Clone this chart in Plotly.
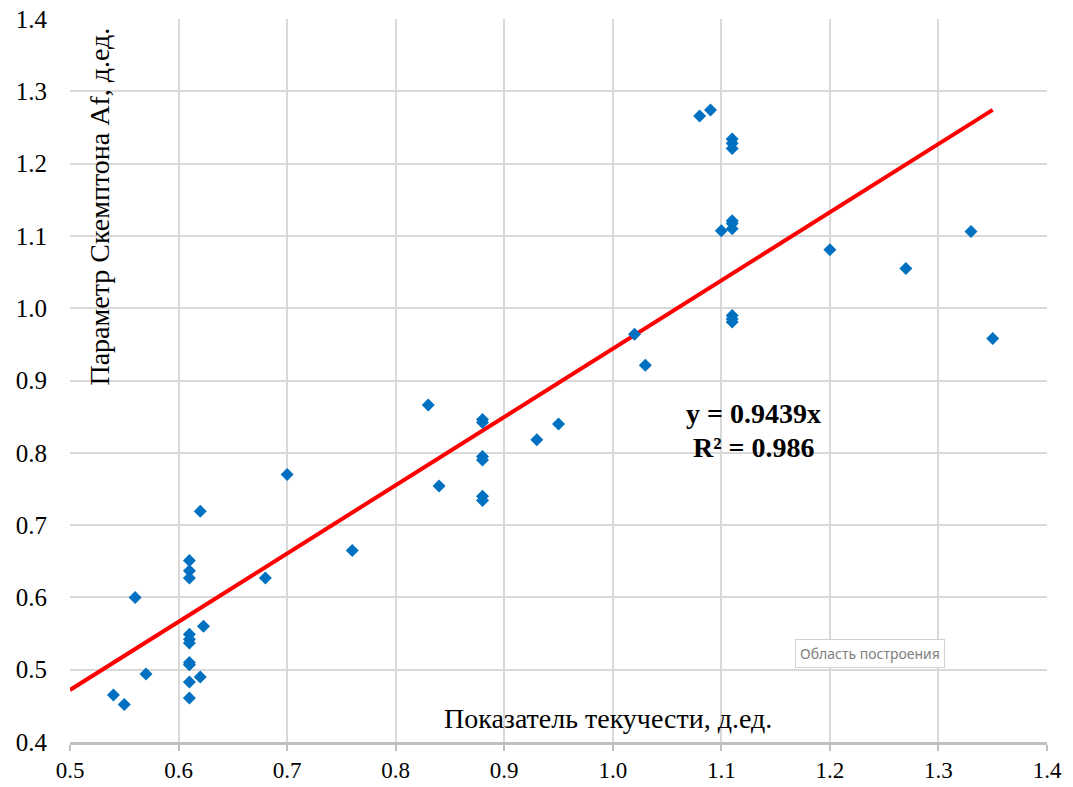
import plotly.graph_objects as go

# Liquidity index vs. Skempton parameter Af
liquidity_index = [
    0.54, 0.55, 0.56, 0.57,
    0.61, 0.61, 0.61, 0.61, 0.61, 0.61, 0.61, 0.61, 0.61, 0.61,
    0.62, 0.623, 0.62,
    0.68, 0.70, 0.76,
    0.83, 0.88, 0.88, 0.88, 0.88, 0.84, 0.88, 0.88, 0.93, 0.95,
    1.02, 1.03,
    1.08, 1.09, 1.11, 1.11, 1.11, 1.10, 1.11, 1.11, 1.11, 1.11, 1.11, 1.11,
    1.20, 1.27, 1.33, 1.35,
]
skempton_af = [
    0.465, 0.452, 0.600, 0.494,
    0.651, 0.637, 0.627, 0.549, 0.542, 0.537, 0.510, 0.507, 0.483, 0.461,
    0.719, 0.560, 0.490,
    0.627, 0.770, 0.665,
    0.866, 0.846, 0.842, 0.795, 0.790, 0.754, 0.740, 0.734, 0.818, 0.840,
    0.964, 0.921,
    1.266, 1.274, 1.234, 1.228, 1.221, 1.107, 1.121, 1.117, 1.110, 0.990, 0.985, 0.981,
    1.081, 1.055, 1.106, 0.958,
]

slope = 0.9439
r_squared = 0.986
trend_x = [0.5, 1.35]
trend_y = [slope * v for v in trend_x]

x_ticks = [0.5, 0.6, 0.7, 0.8, 0.9, 1.0, 1.1, 1.2, 1.3, 1.4]
y_ticks = [0.4, 0.5, 0.6, 0.7, 0.8, 0.9, 1.0, 1.1, 1.2, 1.3, 1.4]

serif = "Liberation Serif"
grid = "#d9d9d9"

fig = go.Figure()
fig.add_trace(go.Scatter(
    x=trend_x, y=trend_y, mode="lines",
    line=dict(color="#ff0000", width=4),
    hoverinfo="skip", showlegend=False,
))
fig.add_trace(go.Scatter(
    x=liquidity_index, y=skempton_af, mode="markers",
    marker=dict(symbol="diamond", size=10, color="#0070c0"),
    showlegend=False,
))

fig.update_layout(
    width=1073, height=787,
    margin=dict(l=70, r=26, t=19, b=45),
    paper_bgcolor="white", plot_bgcolor="white",
    font=dict(family=serif, size=24, color="#000000"),
    xaxis=dict(
        range=[0.5, 1.4], tickvals=x_ticks, tickformat=".1f",
        showgrid=True, gridcolor=grid, gridwidth=1.5,
        showline=True, linecolor="#bfbfbf", linewidth=2.5,
        ticks="outside", ticklen=6, tickcolor="#bfbfbf", tickwidth=1.5,
        ticklabelstandoff=0, automargin=False,
        zeroline=False, tickfont=dict(family=serif, size=23, color="#000000"),
    ),
    yaxis=dict(
        range=[0.4, 1.4], tickvals=y_ticks, tickformat=".1f",
        showgrid=True, gridcolor=grid, gridwidth=1.5,
        showline=False, zeroline=False, ticks="",
        ticklabelstandoff=22, automargin=False,
        tickfont=dict(family=serif, size=25, color="#000000"),
    ),
    annotations=[
        dict(x=1.130, y=0.855, xref="x", yref="y",
             text=f"<b>y = {slope}x</b>", showarrow=False,
             xanchor="center", yanchor="middle",
             font=dict(family=serif, size=28)),
        dict(x=1.130, y=0.808, xref="x", yref="y",
             text=f"<b>R² = {r_squared}</b>", showarrow=False,
             xanchor="center", yanchor="middle",
             font=dict(family=serif, size=28)),
        dict(x=0.551, y=0.032, xref="paper", yref="paper",
             text="Показатель текучести, д.ед.", showarrow=False,
             xanchor="center", yanchor="middle",
             font=dict(family=serif, size=28)),
        dict(x=0.030, y=0.741, xref="paper", yref="paper",
             text="Параметр Скемптона Af, д.ед.", showarrow=False,
             textangle=-90, xanchor="center", yanchor="middle",
             font=dict(family=serif, size=28)),
        dict(x=0.819, y=0.123, xref="paper", yref="paper",
             text="Область построения", showarrow=False,
             xanchor="center", yanchor="middle",
             bgcolor="white", bordercolor="#d0d0d0", borderwidth=1, borderpad=4,
             font=dict(family="Noto Sans", size=14, color="#808080")),
    ],
)

fig.write_html("out.html")
